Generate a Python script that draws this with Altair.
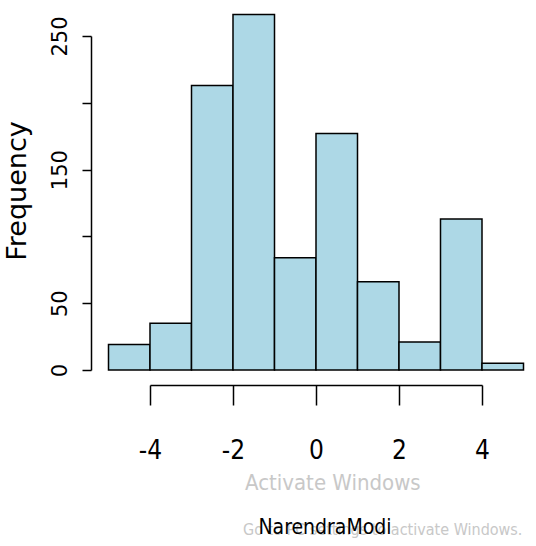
import altair as alt
import pandas as pd

# ---- data ----
bin_start = [-5, -4, -3, -2, -1, 0, 1, 2, 3, 4]
bin_end = [-4, -3, -2, -1, 0, 1, 2, 3, 4, 5]
counts = [19, 35, 213, 266, 84, 177, 66, 21, 113, 5]
x_ticks = [-4, -2, 0, 2, 4]
y_ticks = [0, 50, 100, 150, 200, 250]
y_labels_shown = [0, 50, 150, 250]
x_title = "NarendraModi"
y_title = "Frequency"
watermark_line1 = "Activate Windows"
watermark_line2 = "Go to PC settings to activate Windows."

df = pd.DataFrame({"start": bin_start, "end": bin_end, "count": counts})

NARROW = "Liberation Sans Narrow, DejaVu Sans Condensed, Liberation Sans, sans-serif"
WIDE = "DejaVu Sans, Liberation Sans, sans-serif"

xscale = alt.Scale(domain=[-4, 4], nice=False, zero=False)
yscale = alt.Scale(domain=[0, 250], nice=False)

label_expr = f"indexof({y_labels_shown}, datum.value) >= 0 ? datum.label : ''"

bars = alt.Chart(df).mark_rect(
    fill="#ADD8E6", stroke="black", strokeWidth=1.5, clip=False
).encode(
    x=alt.X("start:Q", scale=xscale,
            axis=alt.Axis(values=x_ticks, title=None, offset=15, tickSize=20,
                          labelPadding=45, labelFont=NARROW, labelFontSize=26,
                          labelBaseline="middle", labelFlush=False,
                          labelExpr="toString(datum.value)",
                          labelOverlap=False, labelBound=False)),
    x2="end:Q",
    y=alt.Y("count:Q", scale=yscale,
            axis=alt.Axis(values=y_ticks, title=None, offset=59, tickSize=9,
                          labelAngle=270, labelAlign="center",
                          labelBaseline="bottom", labelPadding=12,
                          labelExpr=label_expr, labelFont=WIDE,
                          labelFontSize=21, labelFlush=False,
                          labelOverlap=False, labelBound=False)),
    y2=alt.datum(0),
)

wm1 = alt.Chart(pd.DataFrame({"t": [watermark_line1]})).mark_text(
    font=NARROW, fontSize=22, color="#c8c8c8", align="left",
    baseline="alphabetic"
).encode(text="t:N", x=alt.value(95), y=alt.value(454))

wm2 = alt.Chart(pd.DataFrame({"t": [watermark_line2]})).mark_text(
    font=NARROW, fontSize=16, color="#c8c8c8", align="left",
    baseline="alphabetic"
).encode(text="t:N", x=alt.value(93), y=alt.value(499))

xt = alt.Chart(pd.DataFrame({"t": [x_title]})).mark_text(
    font=NARROW, fontSize=21, color="black", align="center", baseline="middle"
).encode(text="t:N", x=alt.value(175), y=alt.value(492))

yt = alt.Chart(pd.DataFrame({"t": [y_title]})).mark_text(
    font=WIDE, fontSize=27, color="black", align="center", baseline="middle",
    angle=270
).encode(text="t:N", x=alt.value(-132), y=alt.value(155))

chart = alt.layer(bars, wm1, wm2, xt, yt).properties(
    width=332, height=334,
    autosize=alt.AutoSizeParams(type="none"),
    padding={"left": 150, "top": 36, "right": 54, "bottom": 176},
    background="white",
).configure_view(stroke=None).configure_axis(
    grid=False, domainColor="black", domainWidth=1.5, tickColor="black",
    tickWidth=1.5, labelColor="black"
)

chart.save("out.html", embed_options={"renderer": "svg", "actions": False})
